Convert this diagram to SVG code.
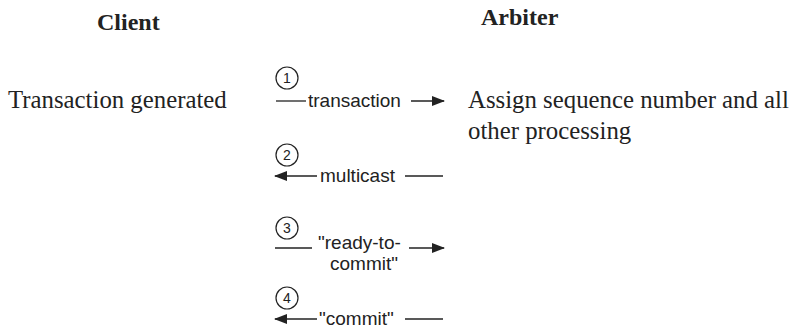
<svg xmlns="http://www.w3.org/2000/svg" width="790" height="328" viewBox="0 0 790 328">
<style>
.h{font-family:"Liberation Serif",serif;font-weight:bold;font-size:24px;fill:#222}
.s{font-family:"Liberation Serif",serif;font-size:24.8px;fill:#222}
.m{font-family:"Liberation Sans",Arial,sans-serif;font-size:19px;fill:#222}
.n{font-family:"Liberation Sans",Arial,sans-serif;font-size:14px;fill:#222;text-anchor:middle}
.c{fill:none;stroke:#222;stroke-width:1.2}
.l{stroke:#222;stroke-width:1.3;fill:none}
</style>
<defs>
<marker id="ah" markerWidth="13" markerHeight="10" refX="12" refY="5" orient="auto" markerUnits="userSpaceOnUse">
<path d="M0,0 L13,5 L0,10 Z" fill="#222"/>
</marker>
</defs>
<g id="client"><text class="h" x="97" y="30">Client</text></g>
<g id="arbiter"><text class="h" x="481" y="25">Arbiter</text></g>
<g id="txgen"><text class="s" x="8" y="108">Transaction generated</text></g>
<g id="assign"><text class="s" x="468" y="108">Assign sequence number and all</text><text class="s" x="468" y="139">other processing</text></g>
<g id="step1"><circle class="c" cx="287" cy="78" r="11"/><text class="n" x="287" y="83">1</text><text class="m" x="308" y="107">transaction</text></g>
<g id="step2"><circle class="c" cx="287" cy="155" r="11"/><text class="n" x="287" y="160">2</text><text class="m" x="320" y="182">multicast</text></g>
<g id="step3"><circle class="c" cx="287" cy="228" r="11"/><text class="n" x="287" y="233">3</text><text class="m" x="318" y="249">"ready-to-</text><text class="m" x="364" y="270" text-anchor="middle">commit"</text></g>
<g id="step4"><circle class="c" cx="287" cy="298" r="11"/><text class="n" x="287" y="303">4</text><text class="m" x="319" y="325">"commit"</text></g>
<g id="connectors">
<line class="l" x1="276" y1="101" x2="306" y2="101"/>
<line class="l" x1="411" y1="101" x2="444" y2="101" marker-end="url(#ah)"/>
<line class="l" x1="317" y1="176" x2="275" y2="176" marker-end="url(#ah)"/>
<line class="l" x1="405" y1="176" x2="443" y2="176"/>
<line class="l" x1="275" y1="248" x2="312" y2="248"/>
<line class="l" x1="409" y1="248" x2="444" y2="248" marker-end="url(#ah)"/>
<line class="l" x1="317" y1="319" x2="275" y2="319" marker-end="url(#ah)"/>
<line class="l" x1="405" y1="319" x2="443" y2="319"/>
</g>
</svg>
